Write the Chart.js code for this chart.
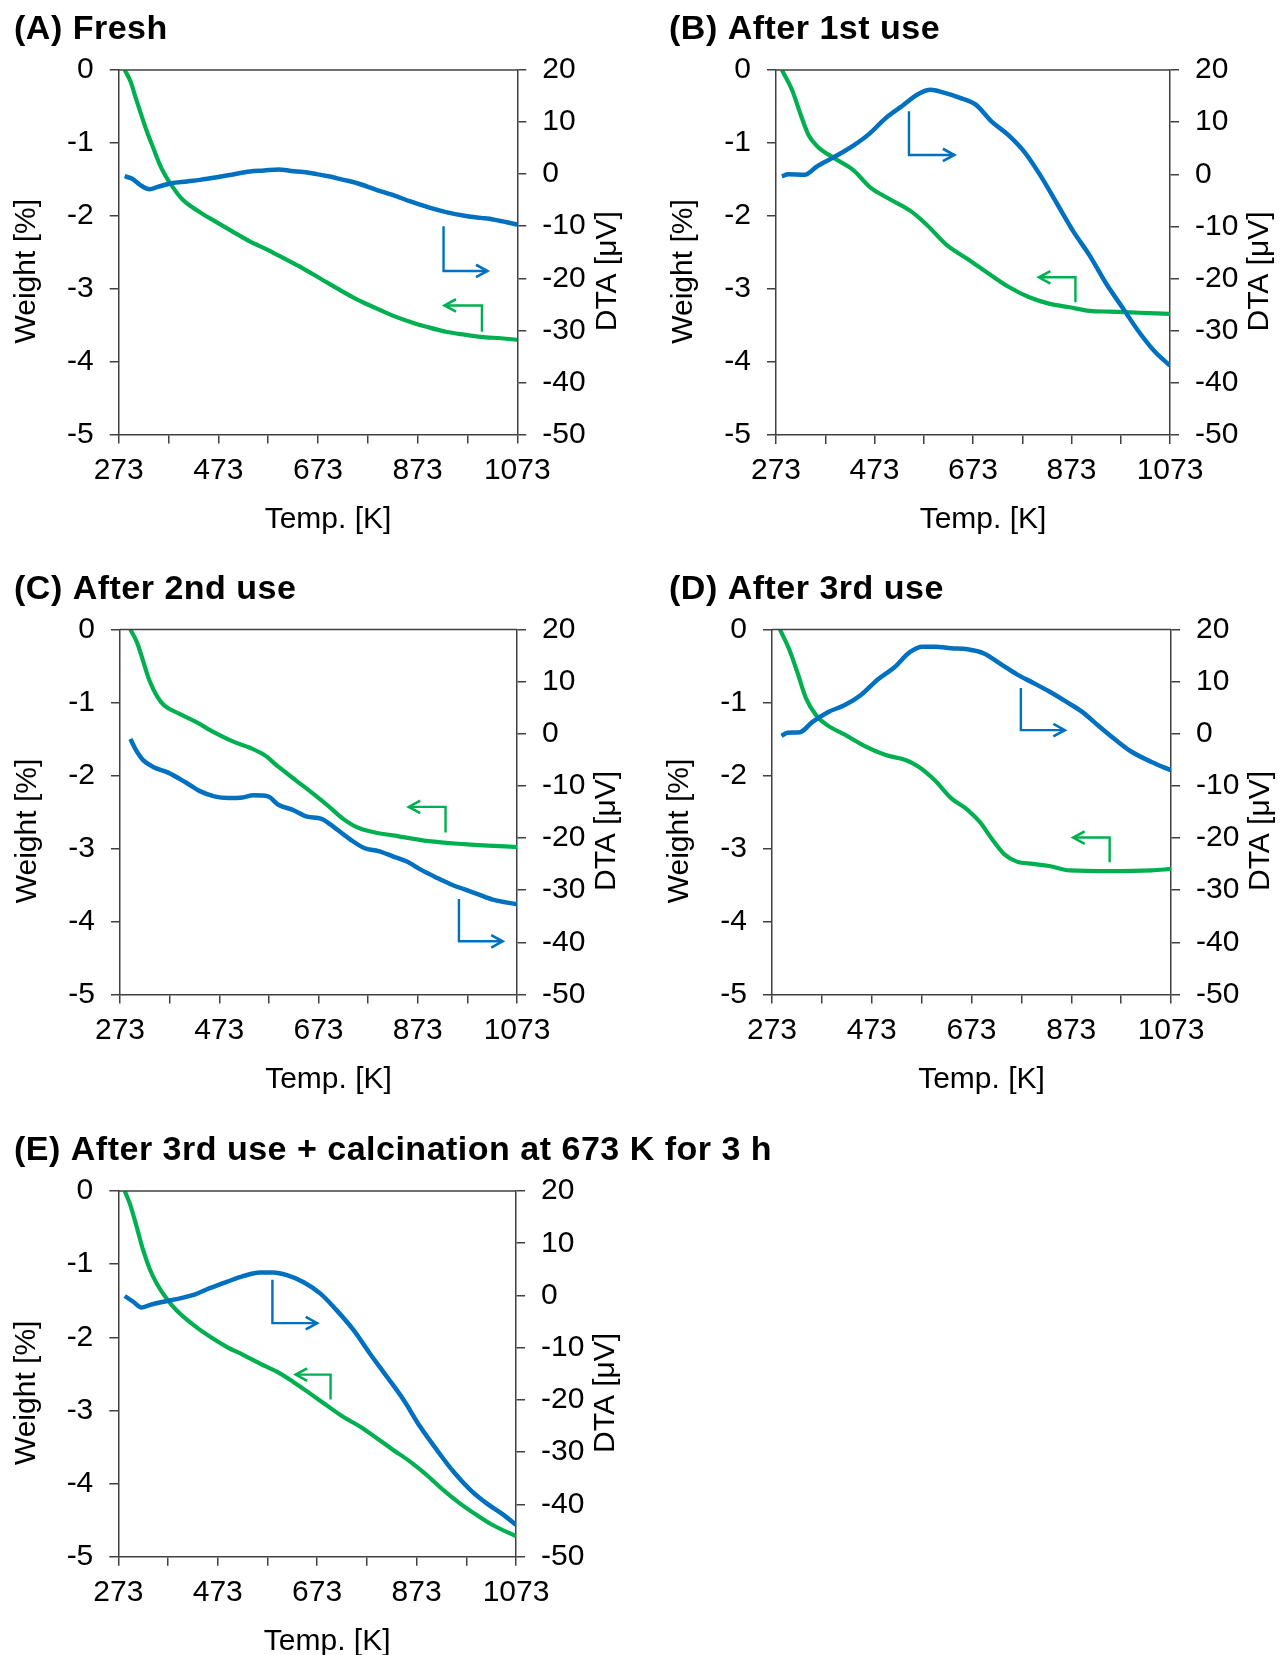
<!DOCTYPE html>
<html>
<head>
<meta charset="utf-8">
<title>TG-DTA</title>
<script src="https://cdn.jsdelivr.net/npm/chart.js@4.4.1/dist/chart.umd.min.js"></script>
<style>
  html, body { margin: 0; padding: 0; background: #fff; }
  body { position: relative; width: 1282px; height: 1655px; overflow: hidden; }
  canvas { position: absolute; }
</style>
</head>
<body>
<canvas id="chartA" width="641" height="545" style="left:0;top:0"></canvas>
<canvas id="chartB" width="641" height="545" style="left:641px;top:0"></canvas>
<canvas id="chartC" width="641" height="545" style="left:0;top:560px"></canvas>
<canvas id="chartD" width="641" height="545" style="left:641px;top:560px"></canvas>
<canvas id="chartE" width="900" height="535" style="left:0;top:1120px"></canvas>
<script>
// temperature axis
const xTicks = [273, 373, 473, 573, 673, 773, 873, 973, 1073];
const xLabels = [273, 473, 673, 873, 1073];

// (A) Fresh
const tempA_w = [285, 297, 307, 318, 330, 343, 355, 366, 378, 400, 436, 465, 500, 536, 570, 601, 640, 680, 715, 752, 790, 823, 860, 895, 930, 967, 1000, 1040, 1073];
const weightA = [0, -0.16, -0.38, -0.61, -0.85, -1.08, -1.29, -1.44, -1.57, -1.77, -1.95, -2.07, -2.21, -2.35, -2.46, -2.57, -2.71, -2.87, -3.01, -3.15, -3.27, -3.37, -3.46, -3.53, -3.59, -3.63, -3.66, -3.68, -3.70];
const tempA_d = [285, 300, 318, 335, 350, 378, 410, 436, 470, 500, 536, 565, 594, 620, 644, 670, 694, 720, 752, 790, 823, 860, 895, 930, 967, 1000, 1024, 1050, 1073];
const dtaA = [-0.4, -0.9, -2.2, -2.9, -2.5, -1.75, -1.4, -1.1, -0.6, -0.1, 0.5, 0.7, 0.9, 0.6, 0.4, 0.0, -0.4, -1.0, -1.75, -3.0, -4.0, -5.3, -6.4, -7.3, -8.0, -8.4, -8.7, -9.2, -9.7];
const arrowA_w = [[1002, -3.59], [1002, -3.23], [927, -3.23]];
const arrowA_d = [[925, -10], [925, -18.6], [1013, -18.6]];

// (B) After 1st use
const tempB_w = [285, 306, 323, 339, 356, 389, 430, 463, 496, 546, 579, 620, 662, 703, 745, 786, 827, 869, 910, 950, 993, 1030, 1073];
const weightB = [0, -0.28, -0.61, -0.89, -1.04, -1.2, -1.37, -1.6, -1.74, -1.93, -2.12, -2.4, -2.59, -2.78, -2.97, -3.11, -3.2, -3.25, -3.3, -3.31, -3.32, -3.33, -3.34];
const tempB_d = [285, 298, 331, 356, 389, 430, 463, 496, 529, 562, 587, 612, 645, 678, 711, 745, 778, 811, 844, 877, 910, 943, 976, 1009, 1042, 1073];
const dtaB = [-0.4, 0.0, -0.1, 1.5, 3.2, 5.5, 7.8, 10.8, 13.1, 15.4, 16.2, 15.7, 14.7, 13.4, 10.1, 7.5, 4.2, -0.4, -5.7, -11.0, -15.6, -20.9, -25.5, -30.1, -34.0, -36.7];
const arrowB_w = [[881, -3.18], [881, -2.84], [807, -2.84]];
const arrowB_d = [[543, 12.1], [543, 3.7], [635, 3.7]];

// (C) After 2nd use
const tempC_w = [294, 308, 319, 333, 348, 362, 391, 427, 463, 499, 535, 564, 592, 628, 664, 693, 722, 751, 787, 823, 895, 966, 1073];
const weightC = [0, -0.19, -0.42, -0.71, -0.92, -1.04, -1.15, -1.27, -1.41, -1.53, -1.62, -1.72, -1.88, -2.07, -2.26, -2.42, -2.59, -2.71, -2.78, -2.82, -2.9, -2.94, -2.98];
const tempC_d = [294, 305, 319, 341, 369, 405, 434, 463, 492, 520, 542, 571, 592, 621, 650, 679, 708, 736, 765, 794, 823, 851, 880, 909, 938, 966, 995, 1024, 1073];
const dtaC = [-1.0, -3.1, -5.0, -6.4, -7.4, -9.3, -11.0, -12.0, -12.3, -12.2, -11.8, -12.0, -13.6, -14.6, -15.9, -16.3, -18.2, -20.2, -21.9, -22.5, -23.5, -24.5, -26.1, -27.5, -28.8, -29.8, -30.8, -31.8, -32.7];
const arrowC_w = [[929, -2.78], [929, -2.43], [855, -2.43]];
const arrowC_d = [[956, -31.7], [956, -39.8], [1044, -39.8]];

// (D) After 3rd use
const tempD_w = [289, 308, 325, 341, 362, 386, 419, 460, 501, 542, 567, 600, 632, 665, 690, 714, 739, 764, 796, 829, 870, 952, 1034, 1073];
const weightD = [0, -0.28, -0.61, -0.94, -1.18, -1.32, -1.44, -1.6, -1.72, -1.79, -1.88, -2.07, -2.31, -2.47, -2.64, -2.87, -3.08, -3.18, -3.21, -3.24, -3.3, -3.31, -3.3, -3.28];
const tempD_d = [292, 304, 329, 353, 386, 419, 452, 485, 518, 550, 575, 600, 632, 665, 698, 731, 764, 796, 829, 862, 895, 928, 961, 993, 1034, 1073];
const dtaD = [-0.4, 0.2, 0.3, 2.2, 4.2, 5.5, 7.5, 10.4, 12.7, 15.7, 16.7, 16.7, 16.4, 16.2, 15.4, 13.4, 11.4, 9.8, 8.1, 6.2, 4.2, 1.5, -1.1, -3.4, -5.4, -7.0];
const arrowD_w = [[950, -3.19], [950, -2.85], [877, -2.85]];
const arrowD_d = [[772, 8.8], [772, 0.7], [860, 0.7]];

// (E) After 3rd use + calcination
const tempE_w = [286, 296, 310, 323, 337, 350, 370, 390, 424, 457, 491, 524, 558, 592, 625, 659, 692, 726, 759, 793, 826, 860, 893, 927, 960, 994, 1027, 1073];
const weightE = [0, -0.17, -0.49, -0.81, -1.08, -1.26, -1.47, -1.63, -1.83, -1.99, -2.13, -2.24, -2.36, -2.47, -2.61, -2.77, -2.93, -3.09, -3.22, -3.38, -3.54, -3.70, -3.88, -4.09, -4.27, -4.43, -4.57, -4.72];
const tempE_d = [286, 303, 320, 337, 364, 390, 424, 457, 491, 524, 558, 585, 612, 645, 679, 712, 746, 779, 813, 847, 880, 914, 947, 981, 1014, 1048, 1073];
const dtaE = [-0.1, -1.2, -2.3, -1.8, -1.2, -0.7, 0.1, 1.4, 2.6, 3.7, 4.4, 4.4, 3.9, 2.6, 0.4, -2.8, -6.6, -11.1, -15.5, -20.0, -25.1, -29.6, -33.7, -37.2, -39.8, -42.0, -43.9];
const arrowE_w = [[700, -2.85], [700, -2.51], [630, -2.51]];
const arrowE_d = [[583, 3.0], [583, -5.3], [673, -5.3]];

const AXIS_COLOR = '#404040';
const GREEN = '#00b050';
const BLUE = '#0070c0';
const FONT = '"Liberation Sans", Arial, Helvetica, sans-serif';

function pairs(xs, ys) {
  return xs.map((x, i) => ({ x: x, y: ys[i] }));
}

// L-shaped pointer ending in an open arrow head
function drawArrow(ctx, xs, ys, pts, color) {
  const p = pts.map(([t, v]) => [xs.getPixelForValue(t), ys.getPixelForValue(v)]);
  ctx.strokeStyle = color;
  ctx.lineWidth = 2.4;
  ctx.lineJoin = 'miter';
  ctx.beginPath();
  ctx.moveTo(p[0][0], p[0][1]);
  for (let i = 1; i < p.length; i++) ctx.lineTo(p[i][0], p[i][1]);
  ctx.stroke();
  const [x1, y1] = p[p.length - 2];
  const [x2, y2] = p[p.length - 1];
  const ang = Math.atan2(y2 - y1, x2 - x1);
  const len = 13, spread = 0.5;
  ctx.lineWidth = 2.6;
  ctx.beginPath();
  ctx.moveTo(x2 - len * Math.cos(ang - spread), y2 - len * Math.sin(ang - spread));
  ctx.lineTo(x2, y2);
  ctx.lineTo(x2 - len * Math.cos(ang + spread), y2 - len * Math.sin(ang + spread));
  ctx.stroke();
}

const panelDecor = {
  id: 'panelDecor',
  afterDraw(chart, args, opts) {
    const { ctx, chartArea: a, scales } = chart;
    ctx.save();
    // top edge of the plot frame
    ctx.strokeStyle = AXIS_COLOR;
    ctx.lineWidth = 1.5;
    ctx.beginPath();
    ctx.moveTo(a.left, a.top);
    ctx.lineTo(a.right, a.top);
    ctx.stroke();

    drawArrow(ctx, scales.x, scales.y1, opts.dtaArrow, BLUE);
    drawArrow(ctx, scales.x, scales.y, opts.weightArrow, GREEN);

    // panel heading
    ctx.fillStyle = '#000';
    ctx.textAlign = 'left';
    ctx.textBaseline = 'alphabetic';
    ctx.font = 'bold 34px ' + FONT;
    if ('letterSpacing' in ctx) ctx.letterSpacing = '0.5px';
    ctx.fillText(opts.heading, opts.headingX, a.top - 31);
    if ('letterSpacing' in ctx) ctx.letterSpacing = '0px';

    // axis titles
    ctx.font = '30px ' + FONT;
    ctx.textAlign = 'center';
    ctx.fillText('Temp. [K]', (a.left + a.right) / 2 + 10, a.bottom + 93);
    const midY = (a.top + a.bottom) / 2 + 19;
    ctx.textBaseline = 'middle';
    ctx.save();
    ctx.translate(a.left - 92, midY);
    ctx.rotate(-Math.PI / 2);
    ctx.fillText('Weight [%]', 0, 0);
    ctx.restore();
    ctx.save();
    ctx.translate(a.right + 90, midY);
    ctx.rotate(-Math.PI / 2);
    ctx.fillText('DTA [\u03bcV]', 0, 0);
    ctx.restore();
    ctx.restore();
  }
};

function buildPanel(canvasId, p) {
  const canvas = document.getElementById(canvasId);
  const W = canvas.width, H = canvas.height;
  const a = p.area;
  const tickFont = { family: FONT, size: 30 };
  const grid = { drawOnChartArea: false, drawTicks: true, tickLength: 9, color: AXIS_COLOR, lineWidth: 1.5 };
  const border = { display: true, color: AXIS_COLOR, width: 1.5 };
  return new Chart(canvas, {
    type: 'line',
    data: {
      datasets: [
        { label: 'DTA', data: pairs(p.dtaT, p.dta), yAxisID: 'y1', borderColor: BLUE, borderWidth: 4.5,
          pointRadius: 0, cubicInterpolationMode: 'monotone', fill: false },
        { label: 'Weight', data: pairs(p.wT, p.w), yAxisID: 'y', borderColor: GREEN, borderWidth: 4.2,
          pointRadius: 0, cubicInterpolationMode: 'monotone', fill: false }
      ]
    },
    options: {
      responsive: false,
      animation: false,
      events: [],
      layout: { padding: { top: a.top, left: 0, right: 0, bottom: 0 }, autoPadding: false },
      plugins: {
        legend: { display: false },
        tooltip: { enabled: false },
        panelDecor: { heading: p.heading, headingX: p.headingX, dtaArrow: p.dtaArrow, weightArrow: p.weightArrow }
      },
      scales: {
        x: {
          type: 'linear', position: 'bottom', min: 273, max: 1073,
          afterBuildTicks: s => { s.ticks = xTicks.map(v => ({ value: v })); },
          afterFit: s => { s.height = H - a.bottom; s.paddingLeft = 0; s.paddingRight = 0; },
          ticks: { font: tickFont, color: '#000', padding: 9, autoSkip: false, maxRotation: 0,
                   callback: v => (xLabels.includes(v) ? String(v) : '') },
          grid: grid, border: border
        },
        y: {
          type: 'linear', position: 'left', min: -5, max: 0,
          afterFit: s => { s.width = a.left; s.paddingTop = 0; s.paddingBottom = 0; },
          ticks: { stepSize: 1, font: tickFont, color: '#000', padding: 16, callback: v => String(v) },
          grid: grid, border: border
        },
        y1: {
          type: 'linear', position: 'right', min: -50, max: 20,
          afterFit: s => { s.width = W - a.right; s.paddingTop = 0; s.paddingBottom = 0; },
          ticks: { stepSize: 10, font: tickFont, color: '#000', padding: 16, callback: v => String(v) },
          grid: grid, border: border
        }
      }
    },
    plugins: [panelDecor]
  });
}

buildPanel('chartA', {
  heading: '(A) Fresh', headingX: 14,
  area: { left: 118.7, right: 517.3, top: 70, bottom: 434.5 },
  wT: tempA_w, w: weightA, dtaT: tempA_d, dta: dtaA,
  weightArrow: arrowA_w, dtaArrow: arrowA_d
});
buildPanel('chartB', {
  heading: '(B) After 1st use', headingX: 28,
  area: { left: 135, right: 529, top: 70, bottom: 435 },
  wT: tempB_w, w: weightB, dtaT: tempB_d, dta: dtaB,
  weightArrow: arrowB_w, dtaArrow: arrowB_d
});
buildPanel('chartC', {
  heading: '(C) After 2nd use', headingX: 14,
  area: { left: 120, right: 517, top: 69.5, bottom: 434.5 },
  wT: tempC_w, w: weightC, dtaT: tempC_d, dta: dtaC,
  weightArrow: arrowC_w, dtaArrow: arrowC_d
});
buildPanel('chartD', {
  heading: '(D) After 3rd use', headingX: 28,
  area: { left: 131, right: 530, top: 69.5, bottom: 434.5 },
  wT: tempD_w, w: weightD, dtaT: tempD_d, dta: dtaD,
  weightArrow: arrowD_w, dtaArrow: arrowD_d
});
buildPanel('chartE', {
  heading: '(E) After 3rd use + calcination at 673 K for 3 h', headingX: 14,
  area: { left: 118.3, right: 516, top: 71, bottom: 436.7 },
  wT: tempE_w, w: weightE, dtaT: tempE_d, dta: dtaE,
  weightArrow: arrowE_w, dtaArrow: arrowE_d
});
</script>
</body>
</html>
